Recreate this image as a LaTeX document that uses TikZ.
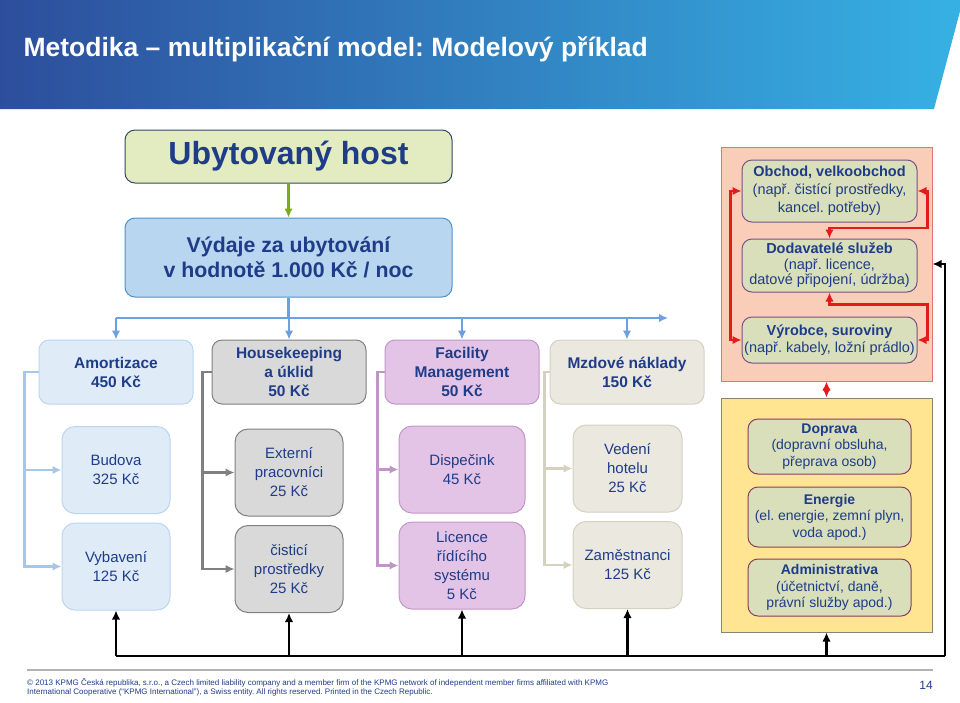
\documentclass[tikz,border=0pt]{standalone}
\usepackage{fontspec}
\setmainfont{Liberation Sans}
\usetikzlibrary{arrows,arrows.meta,calc,positioning}
\frenchspacing

\definecolor{navy}{HTML}{1F3C88}
\definecolor{bandl}{HTML}{2D4E9C}
\definecolor{bandr}{HTML}{36B1E3}
\definecolor{hostfill}{HTML}{E2ECC0}
\definecolor{hostline}{HTML}{34456A}
\definecolor{costfill}{HTML}{B8D6F0}
\definecolor{costline}{HTML}{4B93CB}
\definecolor{bluecon}{HTML}{6E9FE2}
\definecolor{greencon}{HTML}{7DAA1C}
\definecolor{amofill}{HTML}{DFECF8}
\definecolor{amoline}{HTML}{BBD5EE}
\definecolor{amocon}{HTML}{A6C7E8}
\definecolor{hkfill}{HTML}{D9D9D9}
\definecolor{hkline}{HTML}{808080}
\definecolor{fmfill}{HTML}{E3C4E6}
\definecolor{fmline}{HTML}{C295C8}
\definecolor{mzfill}{HTML}{EAE8DF}
\definecolor{mzline}{HTML}{D4D1C1}
\definecolor{redfill}{HTML}{F9CDB8}
\definecolor{redline}{HTML}{E07470}
\definecolor{redcon}{HTML}{E31B1B}
\definecolor{yelfill}{HTML}{FFE491}
\definecolor{yelline}{HTML}{86866E}
\definecolor{suppfill}{HTML}{D8DFBA}
\definecolor{suppline}{HTML}{7B5086}
\definecolor{servline}{HTML}{8E3B5E}

\tikzstyle{box}=[draw,align=center,text=navy,line width=1pt,inner sep=0pt]
\tikzstyle{head}=[box,rounded corners=10pt,minimum width=327pt]
\tikzstyle{cat}=[box,rounded corners=10pt,minimum width=154pt,minimum height=64pt,font=\fontsize{15.5}{19}\selectfont\bfseries]
\tikzstyle{item}=[box,rounded corners=13pt,minimum height=87pt,font=\fontsize{15}{19}\selectfont]
\tikzstyle{supp}=[box,rounded corners=10pt,fill=suppfill,draw=suppline,minimum width=175pt,font=\fontsize{14.5}{17}\selectfont]
\tikzstyle{serv}=[box,rounded corners=10pt,fill=suppfill,draw=servline,minimum width=163pt,font=\fontsize{14}{16.5}\selectfont]
\tikzstyle{area}=[draw,line width=1pt,minimum width=211pt,minimum height=234pt]
\tikzstyle{con}=[line width=2.2pt]

\begin{document}
\begin{tikzpicture}[
      x=1pt,y=-1pt,
      >={Latex[length=9pt,width=8.5pt]},
      auto
    ]
      \useasboundingbox (0,0) rectangle (960,702);
      % title band
      \shade[left color=bandl,right color=bandr] (0,0) -- (963,0) -- (934,109) -- (0,109) -- cycle;
      \node [anchor=base west,text=white,font=\fontsize{26.5}{30}\selectfont\bfseries] (title) at (20,56) {Metodika – multiplikační model: Modelový příklad};

      \node [head,fill=hostfill,draw=hostline,minimum height=53pt,font=\fontsize{32}{36}\selectfont\bfseries] (host) at (288.5,156.5) {Ubytovaný host};
      \node [head,fill=costfill,draw=costline,minimum height=79pt,font=\fontsize{21.3}{25}\selectfont\bfseries] (cost) at (288.5,257.5) {Výdaje za ubytování\\v hodnotě 1.000 Kč / noc};
      \draw[->,con,draw=greencon] (host) -- (cost);

      % cost groups
      \node [cat,fill=amofill,draw=amoline] (amo) at (116,372) {Amortizace\\450 Kč};
      \node [cat,fill=hkfill,draw=hkline] (hk) at (289,372) {Housekeeping\\a úklid\\50 Kč};
      \node [cat,fill=fmfill,draw=fmline] (fm) at (462,372) {Facility\\Management\\50 Kč};
      \node [cat,fill=mzfill,draw=mzline] (mz) at (627,372) {Mzdové náklady\\150 Kč};

      \coordinate (bus) at (288.5,318);
      \coordinate (busend) at (668,318);
      \draw[con,draw=bluecon] (cost) -- (bus);
      \draw[->,con,draw=bluecon] (amo.north |- bus) -- (busend);
      \draw[->,con,draw=bluecon] (amo.north |- bus) -- (amo.north);
      \draw[->,con,draw=bluecon] (hk.north |- bus) -- (hk.north);
      \draw[->,con,draw=bluecon] (fm.north |- bus) -- (fm.north);
      \draw[->,con,draw=bluecon] (mz.north |- bus) -- (mz.north);

      % cost items
      \node [item,fill=amofill,draw=amoline,minimum width=108pt] (bud) at (116,470) {Budova\\325 Kč};
      \node [item,fill=amofill,draw=amoline,minimum width=108pt] (vyb) at (116,566.5) {Vybavení\\125 Kč};
      \node [item,fill=hkfill,draw=hkline,minimum width=108pt] (ext) at (289,472.5) {Externí\\pracovníci\\25 Kč};
      \node [item,fill=hkfill,draw=hkline,minimum width=108pt] (cis) at (289,569) {čisticí\\prostředky\\25 Kč};
      \node [item,fill=fmfill,draw=fmline,minimum width=126pt] (dis) at (462,469.5) {Dispečink\\45 Kč};
      \node [item,fill=fmfill,draw=fmline,minimum width=126pt] (lic) at (462,565.5) {Licence\\řídícího\\systému\\5 Kč};
      \node [item,fill=mzfill,draw=mzline,minimum width=109pt] (ved) at (627.5,468.5) {Vedení\\hotelu\\25 Kč};
      \node [item,fill=mzfill,draw=mzline,minimum width=109pt] (zam) at (627.5,565) {Zaměstnanci\\125 Kč};

      \draw[->,con,draw=amocon] (amo.west) -- ++(-14,0) |- (bud.west);
      \draw[->,con,draw=amocon] (amo.west) -- ++(-14,0) |- (vyb.west);
      \draw[->,con,draw=hkline] (hk.west) -- ++(-9,0) |- (ext.west);
      \draw[->,con,draw=hkline] (hk.west) -- ++(-9,0) |- (cis.west);
      \draw[->,con,draw=fmline] (fm.west) -- ++(-7,0) |- (dis.west);
      \draw[->,con,draw=fmline] (fm.west) -- ++(-7,0) |- (lic.west);
      \draw[->,con,draw=mzline] (mz.west) -- ++(-5,0) |- (ved.west);
      \draw[->,con,draw=mzline] (mz.west) -- ++(-5,0) |- (zam.west);

      % suppliers
      \node [area,fill=redfill,draw=redline] (redbox) at (826.5,264) {};
      \node [supp,minimum height=62pt,font=\fontsize{14.5}{18}\selectfont] (obc) at (829.5,191) {\textbf{Obchod, velkoobchod}\\(např. čistící prostředky,\\kancel. potřeby)};
      \node [supp,minimum height=53pt,font=\fontsize{14.5}{15.5}\selectfont] (dod) at (829.5,265.5) {\textbf{Dodavatelé služeb}\\(např. licence,\\datové připojení, údržba)};
      \node [supp,minimum height=46pt] (vyr) at (829.5,340) {\textbf{Výrobce, suroviny}\\(např. kabely, ložní prádlo)};

      \draw[<->,con,draw=redcon] (obc.west) -- ++(-11,0) |- (vyr.west);
      \draw[<->,con,draw=redcon] (obc.east) -- ++(10,0) -- ++(0,37) -| (dod.north);
      \draw[<->,con,draw=redcon] (dod.south) -- ++(0,12) -| ($(vyr.east)+(10,0)$) -- (vyr.east);

      \node [area,fill=yelfill,draw=yelline] (yelbox) at (826.5,515) {};
      \node [serv,minimum height=55pt] (dop) at (829.5,446.5) {\textbf{Doprava}\\(dopravní obsluha,\\přeprava osob)};
      \node [serv,minimum height=60pt] (ene) at (829.5,517) {\textbf{Energie}\\(el. energie, zemní plyn,\\voda apod.)};
      \node [serv,minimum height=57pt] (adm) at (829.5,587.5) {\textbf{Administrativa}\\(účetnictví, daně,\\právní služby apod.)};

      \draw[<->,con,draw=redcon] (redbox.south) -- (yelbox.north);

      % feedback
      \coordinate (blk) at (116,656);
      \coordinate (blkend) at (945,656);
      \draw[con,line width=2.6pt] (vyb.south |- blk) -- (blkend);
      \draw[->,con,line width=2.6pt] (blkend) |- (redbox.east);
      \draw[->,con] (vyb.south |- blk) -- (vyb.south);
      \draw[->,con] (cis.south |- blk) -- (cis.south);
      \draw[->,con] (lic.south |- blk) -- (lic.south);
      \draw[->,con] (zam.south |- blk) -- (zam.south);
      \draw[->,con] (yelbox.south |- blk) -- (yelbox.south);

      % footer
      \draw[draw=gray!60,line width=1.2pt] (27,670) -- (933,670);
      \node [anchor=north west,align=left,text=navy,inner sep=0pt,font=\fontsize{8}{9.5}\selectfont] (foot) at (27,678) {© 2013 KPMG Česká republika, s.r.o., a Czech limited liability company and a member firm of the KPMG network of independent member firms affiliated with KPMG\\International Cooperative (“KPMG International”), a Swiss entity. All rights reserved. Printed in the Czech Republic.};
      \node [anchor=east,text=navy,inner sep=0pt,font=\fontsize{12}{14}\selectfont] (page) at (933,685) {14};
    \end{tikzpicture}
\end{document}
